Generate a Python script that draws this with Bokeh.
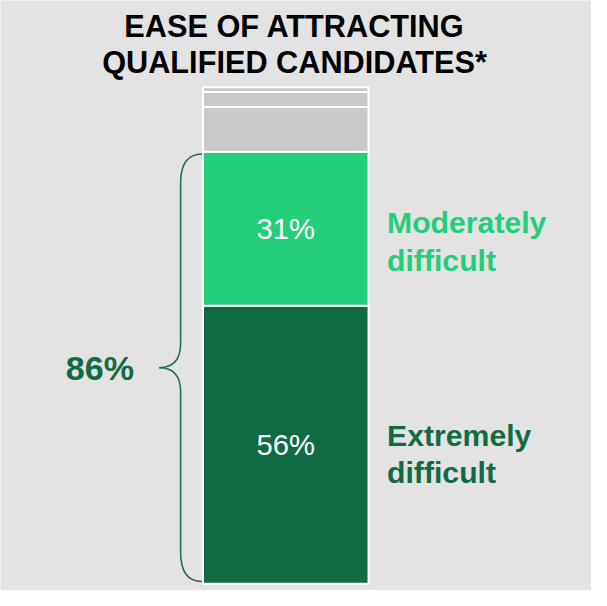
from bokeh.plotting import figure
from bokeh.models import Range1d
from bokeh.embed import file_html
from bokeh.resources import INLINE
from bokeh.core.properties import value

# ---- data ----
segment_names = ["Extremely difficult", "Moderately difficult", "Neutral", "Somewhat easy", "Very easy"]
segment_values = [56, 31, 9, 3, 1]
segment_colors = ["#106b45", "#23ce7b", "#c9c9c9", "#c9c9c9", "#c9c9c9"]
pct_labels = ["56%", "31%", "", "", ""]
side_label_line1 = ["Extremely", "Moderately"]
side_label_line2 = ["difficult", "difficult"]
side_label_colors = ["#116b45", "#23ce7b"]
total_difficult_pct = 86          # as printed (unrounded parts sum to 86)
title_lines = ["EASE OF ATTRACTING", "QUALIFIED CANDIDATES*"]

BG = "#e3e3e3"
DARK = "#116b45"
FONT = "Liberation Sans"

W, H = 591, 590
REF_W, REF_H = 607, 606
S = W / REF_W                      # layout scale from reference pixel grid
PX_PER_PCT = 5.1                   # in reference pixels
PX_PER_X = 170.0
BAR_CX = 293.0
BAR_BOTTOM = 599.0

def px_x(rx):
    return (rx - BAR_CX) / PX_PER_X

def px_y(ry):
    return (BAR_BOTTOM - ry) / PX_PER_PCT

def fs(v):
    return f"{v * S:.1f}px"

p = figure(width=W, height=H, output_backend="svg", toolbar_location=None,
           x_range=Range1d(px_x(0), px_x(REF_W)),
           y_range=Range1d(px_y(REF_H), px_y(0)),
           min_border=0, outline_line_color=None)
p.axis.visible = False
p.grid.visible = False
p.background_fill_color = BG
p.border_fill_color = BG

bottoms, tops, mids = [], [], []
acc = 0
for v in segment_values:
    bottoms.append(acc)
    tops.append(acc + v)
    mids.append(acc + v / 2)
    acc += v

p.vbar(x=[0] * len(segment_values), bottom=bottoms, top=tops, width=1.0,
       fill_color=segment_colors, line_color="white", line_width=2)

p.text(x=[0] * len(segment_values), y=mids, text=pct_labels,
       text_align="center", text_baseline="middle", text_color="white",
       text_font=value(FONT), text_font_size=fs(30))

# side labels for the two green segments (offsets in screen px, positive = down)
lab_x = px_x(397)
p.text(x=[lab_x, lab_x], y=mids[:2], text=side_label_line1, y_offset=[-9 * S, -6.5 * S],
       text_align="left", text_baseline="middle", text_color=side_label_colors,
       text_font=value(FONT), text_font_size=fs(31), text_font_style="bold")
p.text(x=[lab_x, lab_x], y=mids[:2], text=side_label_line2, y_offset=[29 * S, 32.5 * S],
       text_align="left", text_baseline="middle", text_color=side_label_colors,
       text_font=value(FONT), text_font_size=fs(31), text_font_style="bold")

# brace around the two green segments
inset = 0.45
b_top = tops[1] - inset
b_bot = bottoms[0] + inset
b_mid = (b_top + b_bot) / 2
x_end = px_x(207)
x_line = px_x(185)
x_tip = px_x(163)
c_end = 30 / PX_PER_PCT
c_tip = 25 / PX_PER_PCT
bc = dict(line_color="#1f6e4c", line_width=1.6)
p.quadratic(x0=[x_end, x_end], y0=[b_top, b_bot], x1=[x_line, x_line],
            y1=[b_top - c_end, b_bot + c_end], cx=[x_line, x_line], cy=[b_top, b_bot], **bc)
p.segment(x0=[x_line, x_line], y0=[b_top - c_end, b_mid - c_tip],
          x1=[x_line, x_line], y1=[b_mid + c_tip, b_bot + c_end], **bc)
p.quadratic(x0=[x_line, x_line], y0=[b_mid + c_tip, b_mid - c_tip], x1=[x_tip, x_tip],
            y1=[b_mid, b_mid], cx=[x_line, x_line], cy=[b_mid, b_mid], **bc)

p.text(x=[px_x(67)], y=[b_mid], text=[f"{total_difficult_pct}%"], text_align="left",
       text_baseline="middle", text_color=DARK, text_font=value(FONT),
       text_font_size=fs(35), text_font_style="bold")

# title
p.text(x=[px_x(302), px_x(302)], y=[px_y(27), px_y(63.5)], text=title_lines,
       text_align="center", text_baseline="middle", text_color="black",
       text_font=value(FONT), text_font_size=fs(31.5), text_font_style="bold")

html = file_html(p, INLINE)
html = html.replace("<body>", f'<body style="background:{BG};">', 1)
open("out.html", "w").write(html)
